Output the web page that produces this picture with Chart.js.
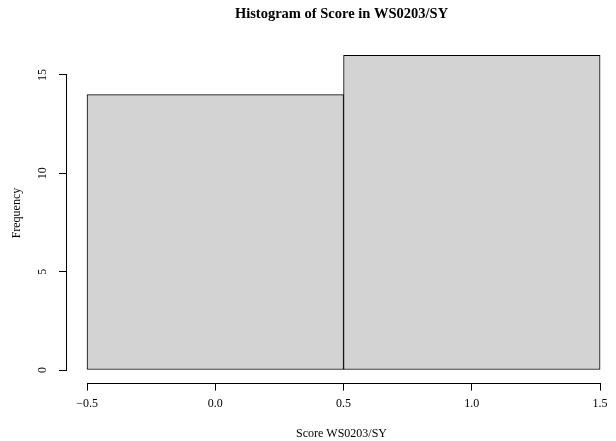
<!DOCTYPE html>
<html>
<head>
<meta charset="utf-8">
<script src="https://cdn.jsdelivr.net/npm/chart.js@4"></script>
<style>
  html, body { margin: 0; padding: 0; background: #fff; overflow: hidden; }
  #wrap { width: 616px; height: 441px; }
</style>
</head>
<body>
<div id="wrap"><canvas id="hist"></canvas></div>
<script>
// Données de l'histogramme
const binEdges = [-0.5, 0.5, 1.5];
const counts = [14, 16];
const xTicks = [-0.5, 0, 0.5, 1, 1.5];
const yTicks = [0, 5, 10, 15];

const serif = '"Liberation Serif", "Times New Roman", serif';

// Ligne d'axe style R : du premier au dernier tick seulement
const rAxes = {
    id: 'rAxes',
    afterDraw(chart) {
        const { ctx, chartArea, scales } = chart;
        const x = scales.x, y = scales.y;
        ctx.save();
        ctx.strokeStyle = '#000';
        ctx.lineWidth = 1;
        ctx.beginPath();
        const by = Math.round(chartArea.bottom) + 0.5;
        ctx.moveTo(x.getPixelForValue(xTicks[0]), by);
        ctx.lineTo(x.getPixelForValue(xTicks[xTicks.length - 1]), by);
        const lx = Math.round(chartArea.left) - 0.5;
        ctx.moveTo(lx, y.getPixelForValue(yTicks[0]));
        ctx.lineTo(lx, y.getPixelForValue(yTicks[yTicks.length - 1]));
        ctx.stroke();
        ctx.restore();
    }
};

const data = counts.map((c, i) => ({ x: (binEdges[i] + binEdges[i + 1]) / 2, y: c }));

new Chart(document.getElementById('hist'), {
    type: 'bar',
    data: {
        datasets: [{
            data: data,
            backgroundColor: '#d3d3d3',
            borderColor: '#000',
            borderWidth: 1,
            borderSkipped: false,
            barThickness: 'flex',
            barPercentage: 1,
            categoryPercentage: 1
        }]
    },
    options: {
        responsive: true,
        maintainAspectRatio: false,
        animation: false,
        layout: { padding: 0 },
        plugins: {
            legend: { display: false },
            tooltip: { enabled: false },
            title: {
                display: true,
                fullSize: false,
                text: 'Histogram of Score in WS0203/SY',
                color: '#000',
                font: { family: serif, size: 14.5, weight: 'bold', lineHeight: 1.2 },
                padding: { top: 5.4, bottom: 20.7 }
            }
        },
        scales: {
            x: {
                type: 'linear',
                min: -0.578,
                max: 1.562,
                offset: false,
                afterBuildTicks: (s) => { s.ticks = xTicks.map(v => ({ value: v })); },
                afterFit: (s) => { s.height = 58.4; },
                grid: { offset: false, drawOnChartArea: false, drawTicks: true, tickLength: 8, color: '#000', lineWidth: 1 },
                border: { display: false },
                ticks: {
                    color: '#000',
                    font: { family: serif, size: 12 },
                    padding: 6,
                    maxRotation: 0,
                    autoSkip: false,
                    callback: (v) => (v < 0 ? '\u2212' : '') + Math.abs(v).toFixed(1)
                },
                title: {
                    display: true,
                    text: 'Score WS0203/SY',
                    color: '#000',
                    font: { family: serif, size: 12 },
                    padding: { top: 0, bottom: 0 }
                }
            },
            y: {
                min: -0.64,
                max: 16.6,
                afterBuildTicks: (s) => { s.ticks = yTicks.map(v => ({ value: v })); },
                afterFit: (s) => { s.width = 67; },
                grid: { drawOnChartArea: false, drawTicks: true, tickLength: 8, color: '#000', lineWidth: 1 },
                border: { display: false },
                ticks: {
                    color: '#000',
                    font: { family: serif, size: 12 },
                    padding: 10,
                    minRotation: 90,
                    maxRotation: 90,
                    crossAlign: 'center',
                    autoSkip: false
                },
                title: {
                    display: true,
                    text: 'Frequency',
                    color: '#000',
                    font: { family: serif, size: 12 },
                    padding: { top: 10, bottom: 0 }
                }
            }
        }
    },
    plugins: [rAxes]
});
</script>
</body>
</html>
